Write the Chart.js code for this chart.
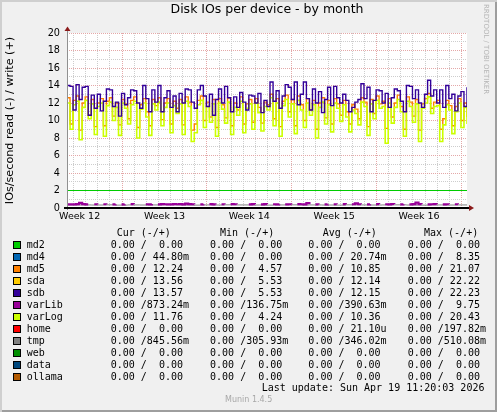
<!DOCTYPE html>
<html>
<head>
<meta charset="utf-8">
<title>Disk IOs per device - by month</title>
<script src="https://cdn.jsdelivr.net/npm/chart.js@4.4.1/dist/chart.umd.min.js"></script>
<style>
  html, body { margin: 0; padding: 0; background: #ffffff; }
  #graph {
    position: relative; width: 497px; height: 412px; overflow: hidden;
    background: #F0F0F0;
    box-shadow: inset 2px 2px 0 #CFCFCF, inset -2px -2px 0 #9E9E9E;
  }
  #graph canvas { position: absolute; left: 0; top: 0; }
  .txt { position: absolute; white-space: pre; color: #000; }
  .mono { font: 10px "DejaVu Sans Mono", monospace; line-height: 12px; height: 12px; }
  .swatch { position: absolute; width: 6px; height: 6px; border: 1px solid #000; }
</style>
</head>
<body>
<div id="graph">
  <canvas id="chart" width="497" height="230"></canvas>
</div>
<script>
// graph spans 33 days, series sampled every 6 hours
const stepHours = 6;
const spanHours = 792;

// write IOs/s (reads are all zero)
const sdb = [
  14.0, 13.9, 11.2, 14.1, 12.4, 13.8, 13.9, 10.6, 12.9, 11.4,
  13.0, 11.1, 12.2, 13.6, 13.5, 11.6, 12.1, 10.5, 13.1, 11.8,
  12.6, 13.5, 13.4, 12.0, 11.4, 14.0, 12.5, 11.0, 13.5, 12.1,
  14.0, 11.0, 12.6, 13.4, 11.5, 12.8, 11.0, 13.1, 12.0, 13.6,
  13.5, 12.1, 11.4, 13.5, 14.0, 12.8, 11.6, 13.0, 10.6, 12.4,
  13.6, 12.0, 13.9, 12.6, 11.0, 12.7, 11.5, 13.2, 12.1, 11.2,
  12.9, 12.8, 12.0, 13.1, 10.9, 12.3, 11.6, 14.4, 12.2, 13.4,
  11.4, 12.8, 14.1, 13.8, 12.4, 14.4, 11.8, 13.0, 14.4, 12.5,
  11.2, 13.6, 12.0, 13.3, 10.9, 12.4, 13.8, 11.7, 13.9, 12.6,
  12.0, 13.0, 12.3, 11.0, 11.5, 12.1, 12.4, 14.2, 12.5, 13.8,
  11.0, 12.3, 13.5, 13.4, 12.0, 13.1, 11.5, 12.6, 13.6, 13.4,
  12.2, 11.0, 14.0, 13.9, 12.5, 13.5, 12.0, 11.5, 13.0, 14.6,
  12.8, 13.5, 12.0, 13.5, 11.5, 14.0, 12.5, 13.0, 11.1, 12.8,
  13.3, 11.6, 13.8
];
const md5 = [
  12.6, 9.6, 12.3, 12.8, 8.9, 12.0, 12.7, 10.6, 12.4, 9.3,
  12.0, 12.5, 9.4, 12.2, 12.6, 10.5, 12.0, 9.5, 12.4, 11.9,
  10.2, 12.3, 12.7, 9.2, 11.8, 12.5, 11.0, 9.4, 12.4, 11.7,
  12.6, 10.1, 12.0, 12.5, 9.6, 12.2, 11.4, 12.4, 9.5, 12.7,
  12.1, 8.9, 9.6, 12.3, 12.8, 10.0, 12.1, 10.4, 12.4, 9.2,
  12.5, 11.8, 10.3, 12.6, 9.4, 12.0, 11.2, 12.7, 9.6, 11.9,
  12.4, 9.8, 12.5, 11.5, 9.7, 12.1, 11.8, 13.0, 10.2, 12.5,
  9.3, 12.2, 12.9, 11.0, 12.4, 9.4, 12.8, 11.8, 10.0, 12.5,
  11.2, 12.3, 9.0, 12.0, 12.6, 10.3, 12.3, 9.6, 12.5, 11.9,
  10.6, 12.3, 11.0, 9.6, 11.8, 11.3, 10.2, 12.6, 12.1, 9.3,
  12.4, 10.8, 12.8, 11.9, 12.2, 9.1, 12.5, 10.4, 12.0, 12.9,
  11.6, 9.0, 12.7, 12.1, 10.5, 12.4, 8.9, 11.9, 12.5, 13.1,
  11.4, 12.1, 12.3, 9.0, 10.2, 12.3, 11.7, 9.4, 11.6, 12.5,
  10.0, 12.0, 10.4
];
const varLog = [
  12.0, 9.0, 11.8, 12.2, 7.8, 11.5, 12.3, 10.2, 11.9, 8.4,
  11.6, 12.0, 8.2, 11.7, 12.1, 10.0, 11.5, 8.3, 12.0, 11.4,
  9.6, 11.8, 12.2, 8.0, 11.3, 12.0, 10.4, 8.3, 11.9, 11.2,
  12.1, 9.4, 11.5, 12.0, 8.6, 11.7, 10.8, 11.9, 8.4, 12.2,
  11.6, 7.6, 8.6, 11.8, 12.3, 9.2, 11.6, 9.8, 11.9, 8.2,
  12.0, 11.3, 9.7, 12.1, 8.4, 11.5, 10.6, 12.2, 8.6, 11.4,
  11.9, 9.0, 12.0, 10.9, 8.8, 11.6, 11.2, 12.6, 9.4, 12.0,
  8.2, 11.7, 12.4, 10.4, 11.9, 8.5, 12.3, 11.2, 9.2, 12.0,
  10.6, 11.8, 8.0, 11.5, 12.1, 9.6, 11.8, 8.7, 12.0, 11.4,
  9.9, 11.8, 10.4, 8.7, 11.2, 10.8, 9.5, 12.1, 11.6, 8.3,
  11.9, 10.2, 12.3, 11.4, 11.6, 7.4, 12.0, 9.7, 11.5, 12.4,
  11.0, 8.2, 12.2, 11.6, 9.8, 11.9, 7.6, 11.4, 12.0, 12.7,
  10.8, 11.6, 11.7, 7.6, 9.5, 11.8, 11.2, 8.5, 11.0, 12.0,
  9.2, 11.5, 9.6
];
const varLib = [
  0.42, 0.42, 0.41, 0.44, 0.58, 0.44, 0.42, 0.42, null, 0.43,
  0.41, null, 0.43, 0.42, null, 0.41, 0.44, null, 0.42, 0.43,
  null, 0.44, 0.42, null, 0.41, null, 0.43, 0.42, 0.45, null,
  0.42, 0.44, 0.43, 0.42, 0.41, 0.45, 0.43, 0.44, 0.42, 0.50,
  0.44, 0.43, 0.42, null, 0.42, 0.43, null, 0.44, 0.42, 0.41,
  null, 0.43, 0.42, null, 0.44, 0.43, 0.42, null, 0.43, null,
  0.42, 0.45, 0.43, null, 0.41, 0.44, 0.42, null, 0.43, 0.42,
  0.44, null, 0.42, 0.43, 0.41, null, 0.44, 0.43, 0.42, 0.55,
  0.43, null, 0.42, 0.41, null, 0.42, 0.44, null, 0.43, 0.42,
  null, 0.44, 0.42, null, 0.43, 0.52, 0.43, 0.42, null, 0.41,
  0.43, null, 0.44, 0.42, null, 0.43, 0.41, 0.46, 0.45, null,
  0.42, 0.43, null, 0.42, 0.44, 0.62, 0.44, 0.43, null, 0.42,
  0.43, 0.44, 0.42, null, 0.41, 0.43, 0.42, null, 0.43, 0.42,
  null, null, null
];
// tmp, one value per day
const tmpDaily = [
  0.34, 0.35, 0.34, 0.36, 0.33, 0.35, 0.34, 0.35, 0.36, 0.34,
  0.33, 0.35, 0.34, 0.36, 0.35, 0.34, 0.33, 0.35, 0.36, 0.34,
  0.35, 0.34, 0.33, 0.36, 0.35, 0.34, 0.35, 0.36, 0.34, 0.33,
  0.35, 0.34, 0.35, 0.34
];
// green rule at 2 IOs/s across the whole graph
const ruleLevel = [2, 2];

// x axis: day grid, week boundaries and week labels (hours from graph start)
const firstDayHour = 13;
const firstWeekHour = 109;
const weekLabels = ['Week 12', 'Week 13', 'Week 14', 'Week 15', 'Week 16'];
const weekLabelHours = [25, 193, 361, 529, 697];

// legend table
const names = ['md2', 'md4', 'md5', 'sda', 'sdb', 'varLib', 'varLog', 'home', 'tmp', 'web', 'data', 'ollama'];
const colors = ['#00CC00', '#0066B3', '#FF8000', '#FFCC00', '#330099', '#990099', '#CCFF00', '#FF0000', '#808080', '#008F00', '#00487D', '#B35A00'];
const curWrite = ['0.00', '44.80m', '12.24', '13.56', '13.57', '873.24m', '11.76', '0.00', '845.56m', '0.00', '0.00', '0.00'];
const minWrite = ['0.00', '0.00', '4.57', '5.53', '5.53', '136.75m', '4.24', '0.00', '305.93m', '0.00', '0.00', '0.00'];
const avgWrite = ['0.00', '20.74m', '10.85', '12.14', '12.15', '390.63m', '10.36', '21.10u', '346.02m', '0.00', '0.00', '0.00'];
const maxWrite = ['0.00', '8.35', '21.07', '22.22', '22.23', '9.75', '20.43', '197.82m', '510.08m', '0.00', '0.00', '0.00'];
const readValue = '0.00';
const lastUpdate = 'Last update: Sun Apr 19 11:20:03 2026';

const majorGrid = '#E4A8A8';
const minorGrid = '#CDCDCD';

function points(values, hours) {
  return values.map((v, i) => ({ x: i * hours, y: v }));
}

function series(label, data, color, width, z) {
  return {
    label: label, data: data, borderColor: color, borderWidth: width,
    stepped: true, pointRadius: 0, fill: false, spanGaps: false, order: z
  };
}

let dayHours = [];
for (let h = firstDayHour; h < spanHours; h += 24) dayHours.push(h);

// white canvas, axis lines and the little rrdtool arrows
const frame = {
  id: 'frame',
  beforeDraw(chart) {
    const { ctx, chartArea: a } = chart;
    ctx.save();
    ctx.fillStyle = '#FFFFFF';
    ctx.fillRect(a.left, a.top, a.right - a.left, a.bottom - a.top);
    ctx.restore();
  },
  afterDatasetsDraw(chart) {
    const { ctx, chartArea: a } = chart;
    ctx.save();
    ctx.strokeStyle = '#909090';
    ctx.lineWidth = 1;
    ctx.beginPath();
    ctx.moveTo(a.left + 0.5, a.bottom + 2);
    ctx.lineTo(a.left + 0.5, a.top - 3);
    ctx.stroke();
    ctx.strokeStyle = '#000000';
    ctx.lineWidth = 2;
    ctx.beginPath();
    ctx.moveTo(a.left - 3, a.bottom);
    ctx.lineTo(a.right + 2, a.bottom);
    ctx.stroke();
    ctx.fillStyle = '#8B1A1A';
    ctx.beginPath();
    ctx.moveTo(a.left + 0.5, a.top - 6.5);
    ctx.lineTo(a.left - 2.5, a.top - 2);
    ctx.lineTo(a.left + 3.5, a.top - 2);
    ctx.fill();
    ctx.beginPath();
    ctx.moveTo(a.right + 7, a.bottom);
    ctx.lineTo(a.right + 2, a.bottom - 3);
    ctx.lineTo(a.right + 2, a.bottom + 3);
    ctx.fill();
    ctx.restore();
  }
};

new Chart(document.getElementById('chart'), {
  type: 'line',
  data: {
    datasets: [
      series('rule', points(ruleLevel, spanHours), '#00CC00', 1, 6),
      series('md5', points(md5, stepHours), '#FF8000', 1.4, 5),
      series('varLog', points(varLog, stepHours), '#CCFF00', 1.6, 4),
      series('sdb', points(sdb, stepHours), '#330099', 1.4, 3),
      series('tmp', points(tmpDaily, 24), '#808080', 1, 2),
      series('varLib', points(varLib, stepHours), '#990099', 2.2, 1)
    ]
  },
  options: {
    responsive: false,
    animation: false,
    layout: { padding: { left: 0, top: 33, right: 30, bottom: 6 } },
    plugins: { legend: { display: false }, tooltip: { enabled: false } },
    scales: {
      x: {
        type: 'linear', min: 0, max: spanHours,
        afterBuildTicks: s => { s.ticks = dayHours.map(v => ({ value: v })); },
        ticks: { display: false },
        grid: {
          color: c => ((c.tick.value - firstWeekHour) % 168 === 0) ? majorGrid : minorGrid,
          drawTicks: false, lineWidth: 1
        },
        border: { display: false, dash: [1, 1] },
        afterFit: s => { s.height = 0; }
      },
      x2: {
        type: 'linear', position: 'bottom', min: 0, max: spanHours,
        afterBuildTicks: s => { s.ticks = weekLabelHours.map(v => ({ value: v })); },
        ticks: {
          callback: (v, i) => weekLabels[i],
          autoSkip: false, maxRotation: 0, padding: 3, color: '#000',
          font: { family: 'DejaVu Sans', size: 9.5 }
        },
        grid: { display: false, drawTicks: false },
        border: { display: false },
        afterFit: s => { s.height = 16; }
      },
      y: {
        type: 'linear', min: 0, max: 20,
        ticks: {
          stepSize: 1, autoSkip: false, padding: 7, color: '#000',
          callback: v => (v % 2 === 0 ? String(v) : ''),
          font: { family: 'DejaVu Sans', size: 9.7 }
        },
        grid: {
          color: c => (c.tick.value % 2 === 0 ? majorGrid : minorGrid),
          drawTicks: false, lineWidth: 1
        },
        border: { display: false, dash: [1, 1] },
        title: {
          display: true, text: 'IOs/second read (-) / write (+)', color: '#000',
          font: { family: 'DejaVu Sans', size: 11.2 }, padding: { top: 3, bottom: 0 }
        },
        afterFit: s => { s.width = 67; }
      }
    }
  },
  plugins: [frame]
});

// texts around the plot
const graph = document.getElementById('graph');

function addText(str, x, y, cls, css) {
  const el = document.createElement('div');
  el.className = 'txt ' + (cls || '');
  el.textContent = str;
  el.style.left = x + 'px';
  el.style.top = (y - 6) + 'px';
  if (css) Object.assign(el.style, css);
  graph.appendChild(el);
  return el;
}

addText('Disk IOs per device - by month', 117, 7.4, '', {
  width: '300px', textAlign: 'center', font: '12.5px "DejaVu Sans", sans-serif', lineHeight: '15px'
});
addText('RRDTOOL / TOBI OETIKER', 481, 10, '', {
  writingMode: 'vertical-rl', font: '7px "DejaVu Sans", sans-serif', color: '#B4B4B4', lineHeight: '10px'
});

function fmt(v) {
  const m = v.match(/^([\d.]+)([a-z]?)$/);
  return m[1].padStart(6) + (m[2] || ' ');
}

const headers = ['Cur (-/+)', 'Min (-/+)', 'Avg (-/+)', 'Max (-/+)'];
const headerX = [116.7, 220, 322.7, 424];
const colX = [98.7, 198, 296.3, 395.7];
const columns = [curWrite, minWrite, avgWrite, maxWrite];

headers.forEach((h, i) => addText(h, headerX[i], 232.5, 'mono'));

names.forEach((name, r) => {
  const y = 244.5 + r * 12;
  const sw = document.createElement('div');
  sw.className = 'swatch';
  sw.style.left = '13px';
  sw.style.top = (y - 4) + 'px';
  sw.style.background = colors[r];
  graph.appendChild(sw);
  addText(name, 26.7, y, 'mono');
  columns.forEach((col, c) => addText(fmt(readValue) + '/' + fmt(col[r]), colX[c], y, 'mono'));
});

addText(lastUpdate, 261.7, 388.3, 'mono');
addText('Munin 1.4.5', 225, 400, '', { font: '8px "DejaVu Sans", sans-serif', color: '#A8A8A8', lineHeight: '12px' });
</script>
</body>
</html>
